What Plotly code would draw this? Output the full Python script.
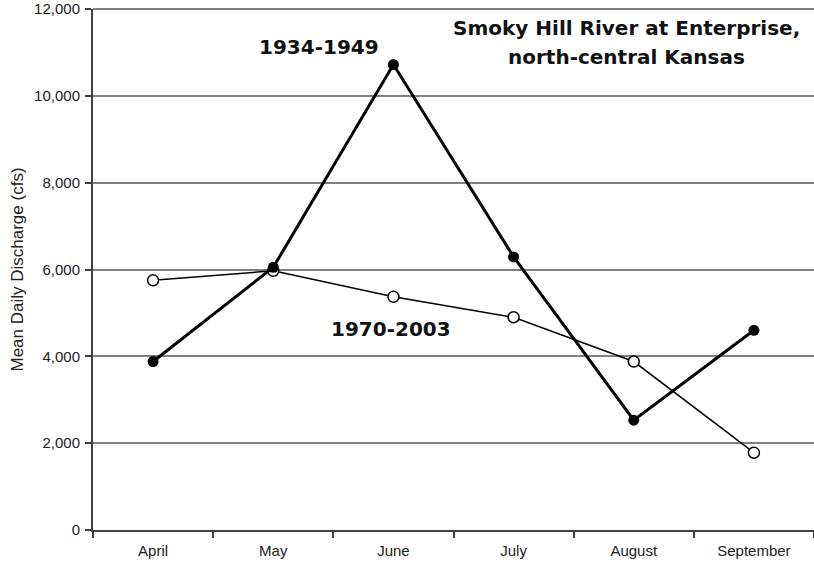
import plotly.graph_objects as go

months = ["April", "May", "June", "July", "August", "September"]
early = [3880, 6050, 10720, 6290, 2530, 4600]   # 1934-1949
late = [5750, 5970, 5370, 4900, 3880, 1780]     # 1970-2003
y_ticks = [0, 2000, 4000, 6000, 8000, 10000, 12000]

fig = go.Figure()
fig.add_trace(go.Scatter(
    x=months, y=late, mode="lines+markers", name="1970-2003",
    line=dict(color="black", width=1.5),
    marker=dict(symbol="circle", size=11, color="white", line=dict(color="black", width=1.5)),
))
fig.add_trace(go.Scatter(
    x=months, y=early, mode="lines+markers", name="1934-1949",
    line=dict(color="black", width=3),
    marker=dict(symbol="circle", size=11, color="black"),
))

bold_font = dict(family="DejaVu Sans", size=20, color="#111111")
fig.add_annotation(x=0.7406, y=0.9627, xref="paper", yref="paper",
                   text="<b>Smoky Hill River at Enterprise,</b>",
                   showarrow=False, font=bold_font, xanchor="center", yanchor="middle")
fig.add_annotation(x=0.7406, y=0.907, xref="paper", yref="paper",
                   text="<b>north-central Kansas</b>",
                   showarrow=False, font=bold_font, xanchor="center", yanchor="middle")
fig.add_annotation(x=1.38, y=11130, xref="x", yref="y", text="<b>1934-1949</b>",
                   showarrow=False, font=bold_font, xanchor="center", yanchor="middle")
fig.add_annotation(x=1.98, y=4635, xref="x", yref="y", text="<b>1970-2003</b>",
                   showarrow=False, font=bold_font, xanchor="center", yanchor="middle")
fig.add_annotation(x=-0.1054, y=0.5, xref="paper", yref="paper", textangle=-90,
                   text="Mean Daily Discharge (cfs)", showarrow=False,
                   font=dict(family="Liberation Sans", size=17, color="#222222"),
                   xanchor="center", yanchor="middle")
fig.add_shape(type="line", xref="paper", yref="paper", x0=0, x1=1, y0=1, y1=1,
              line=dict(color="#808080", width=2), layer="below")

fig.update_layout(
    width=814, height=564,
    margin=dict(l=93, r=0, t=9, b=34),
    paper_bgcolor="white", plot_bgcolor="white",
    showlegend=False,
    font=dict(family="Liberation Sans", size=15, color="#222222"),
)
fig.update_xaxes(
    type="category", range=[-0.5, 5.5], tickson="boundaries", automargin=False,
    ticks="outside", ticklen=6, tickcolor="#404040", tickwidth=1.5, ticklabelstandoff=6,
    showline=True, linecolor="#404040", linewidth=2,
    showgrid=False, zeroline=False,
    tickfont=dict(family="Liberation Sans", size=15, color="#222222"),
)
fig.update_yaxes(
    range=[0, 12000], tickvals=y_ticks, tickformat=",d", automargin=False,
    ticks="outside", ticklen=6, tickcolor="#404040", tickwidth=1.5, ticklabelstandoff=2,
    ticklabeloverflow="allow",
    showline=True, linecolor="#404040", linewidth=2,
    showgrid=True, gridcolor="#808080", gridwidth=2, zeroline=False,
    tickfont=dict(family="Liberation Sans", size=15, color="#222222"),
)

fig.write_html("out.html", config={"displayModeBar": False},
               post_script="document.body.style.margin='0';document.body.style.overflow='hidden';")
